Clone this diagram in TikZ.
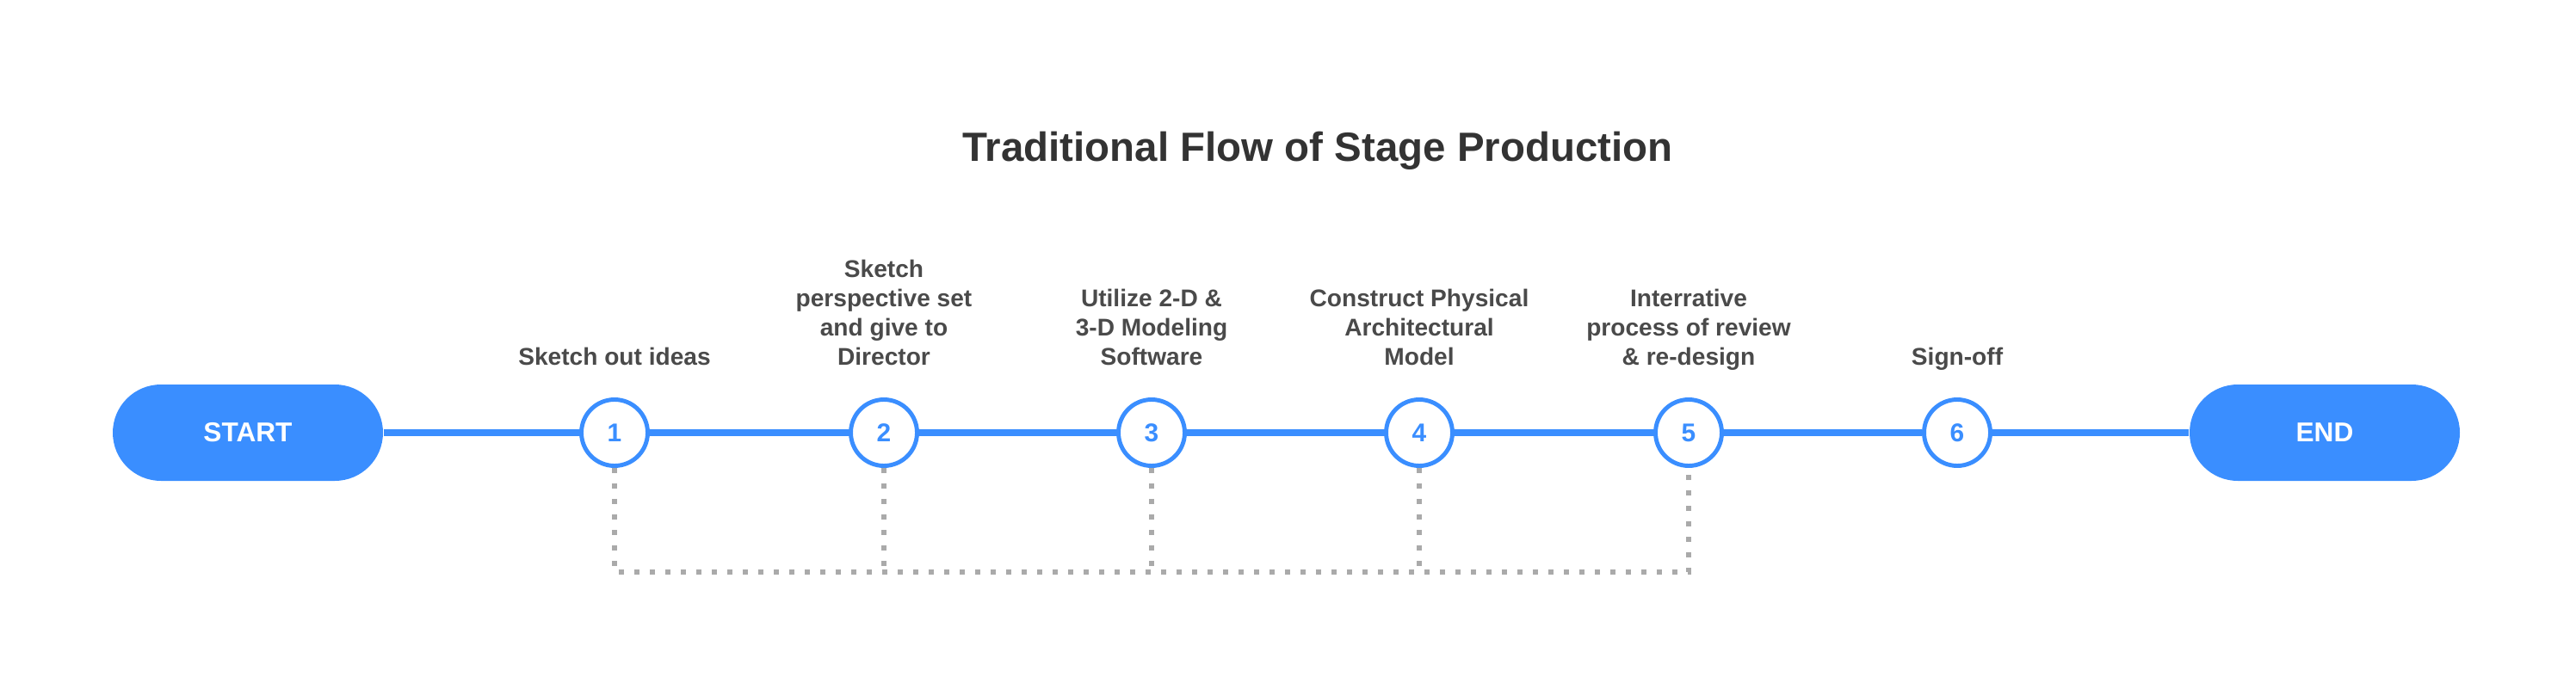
\documentclass[tikz,border=0pt]{standalone}
\usepackage{fontspec}
\setmainfont{Liberation Sans}
\usepackage{xcolor}
\usepackage{tikz}
\usetikzlibrary{positioning}
\definecolor{flowblue}{RGB}{58,142,255}
\definecolor{textgray}{RGB}{74,74,74}
\definecolor{titlegray}{RGB}{51,51,51}
\definecolor{dotgray}{RGB}{170,170,170}

\begin{document}
\begin{tikzpicture}[scale=1]
\tikzstyle{pill}=[rectangle,rounded corners=0.56cm,fill=flowblue,minimum width=3.14cm,minimum height=1.12cm,text=white,font=\fontsize{9}{11}\selectfont\bfseries]
\tikzstyle{stage}=[circle,draw=flowblue,line width=1.4pt,fill=white,minimum size=0.77cm,inner sep=0pt,text=flowblue,font=\fontsize{8.5}{10}\selectfont\bfseries]
\tikzstyle{stagetext}=[align=center,inner sep=0pt,text depth=0pt,text=textgray,font=\fontsize{8}{9.7}\selectfont\bfseries]
\tikzstyle{flow}=[flowblue,line width=2.1pt]
\tikzstyle{dotline}=[dotgray,line width=0.06cm,dash pattern=on 0.06cm off 0.12cm]

\useasboundingbox (0,0) rectangle (29.93,7.93);

\node[anchor=base,text=titlegray,font=\fontsize{13.5}{16}\selectfont\bfseries] (title) at (15.31,6.06) {Traditional Flow of Stage Production};

\node[pill] (start) at (2.88,2.90) {START};
\node[pill] (end) at (27.01,2.90) {END};

\foreach \n/\x in {1/7.14,2/10.27,3/13.38,4/16.49,5/19.62,6/22.74}
  \node[stage] (c\n) at (\x,2.90) {\n};

\node[stagetext,above=0.37cm of c1] (t1) {Sketch out ideas};
\node[stagetext,above=0.37cm of c2] (t2) {Sketch\\perspective set\\and give to\\Director};
\node[stagetext,above=0.37cm of c3] (t3) {Utilize 2-D \&\\3-D Modeling\\Software};
\node[stagetext,above=0.37cm of c4] (t4) {Construct Physical\\Architectural\\Model};
\node[stagetext,above=0.37cm of c5] (t5) {Interrative\\process of review\\\& re-design};
\node[stagetext,above=0.37cm of c6] (t6) {Sign-off};

\draw[flow] (start) -- (c1) -- (c2) -- (c3) -- (c4) -- (c5) -- (c6) -- (end);

\coordinate (dotbase) at (0,1.28);
\draw[dotline] (c1) -- (c1 |- dotbase) -| (c5);
\foreach \n in {2,3,4}
  \draw[dotline] (c\n) -- (c\n |- dotbase);

\end{tikzpicture}
\end{document}
